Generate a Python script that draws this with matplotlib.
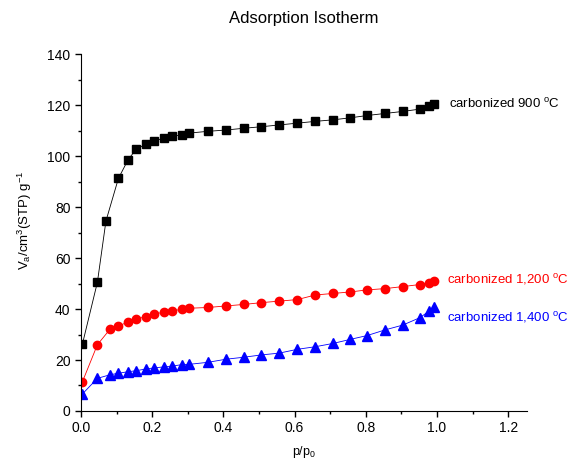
import matplotlib
matplotlib.use('Agg')
import matplotlib.pyplot as plt
from matplotlib.ticker import MultipleLocator

plt.rcParams['font.family'] = ['Liberation Sans', 'DejaVu Sans']
plt.rcParams['mathtext.fontset'] = 'custom'
plt.rcParams['mathtext.rm'] = 'Liberation Sans'
plt.rcParams['mathtext.it'] = 'Liberation Sans'

# relative pressure p/p0
p_900 = [0.004, 0.046, 0.070, 0.105, 0.132, 0.155, 0.183, 0.205, 0.233, 0.256,
         0.284, 0.304, 0.357, 0.407, 0.458, 0.507, 0.557, 0.608, 0.658, 0.708,
         0.757, 0.804, 0.854, 0.904, 0.952, 0.978, 0.992]
p_rest = [0.004, 0.046, 0.081, 0.105, 0.132, 0.155, 0.183, 0.205, 0.233, 0.256,
          0.284, 0.304, 0.357, 0.407, 0.458, 0.507, 0.557, 0.608, 0.658, 0.708,
          0.757, 0.804, 0.854, 0.904, 0.952, 0.978, 0.992]

v_900 = [26.3, 50.5, 74.5, 91.2, 98.5, 102.7, 104.7, 106.0, 106.9, 107.7,
         108.4, 109.0, 109.7, 110.2, 110.9, 111.5, 112.2, 112.9, 113.6, 114.2,
         115.0, 115.9, 116.7, 117.5, 118.4, 119.6, 120.3]
v_1200 = [11.5, 26.0, 32.0, 33.2, 35.0, 36.1, 37.0, 38.0, 38.8, 39.3,
          39.9, 40.3, 40.6, 41.2, 41.8, 42.5, 43.1, 43.7, 45.5, 46.1,
          46.7, 47.5, 48.0, 48.8, 49.6, 50.3, 51.1]
v_1400 = [6.7, 12.8, 14.2, 14.8, 15.4, 15.8, 16.5, 16.9, 17.3, 17.6,
          18.2, 18.3, 19.1, 20.3, 21.1, 22.0, 22.7, 24.2, 25.2, 26.5,
          28.1, 29.6, 31.8, 33.7, 36.6, 39.2, 40.9]

labels = [r'carbonized 900 $^{\mathrm{o}}$C',
          r'carbonized 1,200 $^{\mathrm{o}}$C',
          r'carbonized 1,400 $^{\mathrm{o}}$C']

fig = plt.figure(figsize=(5.69, 4.62), dpi=100)
ax = fig.add_axes([0.1424, 0.1104, 0.7838, 0.7726])

ax.plot(p_900, v_900, '-s', color='black', lw=0.6, ms=5.5)
ax.plot(p_rest, v_1200, '-o', color='red', lw=0.6, ms=6)
ax.plot(p_rest, v_1400, '-^', color='blue', lw=0.6, ms=6.5)

ax.text(1.034, 120.4, labels[0], color='black', fontsize=9.5, va='center')
ax.text(1.028, 51.4, labels[1], color='red', fontsize=9.5, va='center')
ax.text(1.028, 36.5, labels[2], color='blue', fontsize=9.5, va='center')

ax.set_xlim(0, 1.253)
ax.set_ylim(0, 140)
ax.xaxis.set_major_locator(MultipleLocator(0.2))
ax.xaxis.set_minor_locator(MultipleLocator(0.1))
ax.yaxis.set_major_locator(MultipleLocator(20))
ax.yaxis.set_minor_locator(MultipleLocator(10))
ax.xaxis.set_major_formatter(plt.FuncFormatter(lambda v, p: '%.1f' % v))

ax.spines['top'].set_visible(False)
ax.spines['right'].set_visible(False)
ax.tick_params(which='major', direction='out', length=4, width=1, labelsize=10)
ax.tick_params(which='minor', direction='out', length=2.5, width=1)

ax.set_title('Adsorption Isotherm', fontsize=12, pad=22)
ax.set_xlabel(r'p/p$_0$', fontsize=9, labelpad=6)
ax.set_ylabel(r'V$_\mathrm{a}$/cm$^3$(STP) g$^{-1}$', fontsize=9.5)
ax.yaxis.set_label_coords(-0.105, 0.535)

fig.savefig('out.png', dpi=100)
